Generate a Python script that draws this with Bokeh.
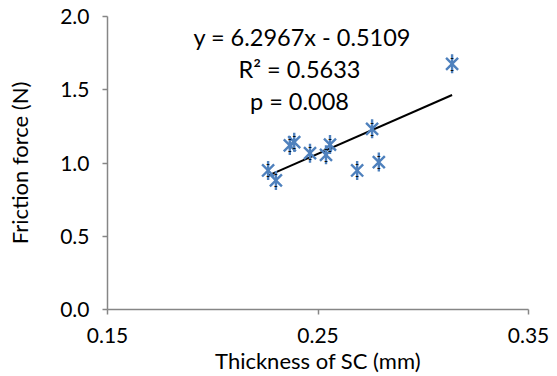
import numpy as np
from bokeh.plotting import figure
from bokeh.models import Label, FixedTicker, NumeralTickFormatter, ColumnDataSource
from bokeh.core.properties import value
from bokeh.embed import file_html
from bokeh.resources import INLINE

# data
thickness = [0.2263, 0.2300, 0.2366, 0.2387, 0.2462, 0.2538, 0.2557, 0.2686, 0.2757, 0.2789, 0.3137]
friction = [0.949, 0.881, 1.120, 1.142, 1.067, 1.056, 1.126, 0.949, 1.233, 1.006, 1.677]
slope = 6.2967
intercept = -0.5109
eq_text = "y = 6.2967x - 0.5109"
r2_text = "R² = 0.5633"
p_text = "p = 0.008"
x_ticks = [0.15, 0.25, 0.35]
y_ticks = [0.0, 0.5, 1.0, 1.5, 2.0]

FONT = "Lato"
AXIS_GRAY = "#868686"
BLUE = "#4F81BD"

p = figure(width=557, height=376, output_backend="svg", toolbar_location=None,
           x_range=(0.15, 0.35), y_range=(0.0, 2.0),
           min_border_left=107, min_border_right=29, min_border_top=16, min_border_bottom=67)
p.outline_line_color = None
p.xgrid.grid_line_color = None
p.ygrid.grid_line_color = None
p.background_fill_color = "white"
p.border_fill_color = "white"

# trendline
xs = np.array([min(thickness), max(thickness)])
p.line(xs, slope * xs + intercept, line_color="black", line_width=2)

src = ColumnDataSource(dict(x=thickness, y=friction))
p.scatter("x", "y", source=src, marker="x", size=17, line_color=BLUE, line_width=2.4)
p.scatter("x", "y", source=src, marker="dash", angle=np.pi / 2, size=19, line_color=BLUE, line_width=2.4)
for off in (-6, 6):
    p.text("x", "y", source=src, text=value("-"), y_offset=off, text_align="center",
           text_baseline="middle", text_font_size="11px", text_color="black",
           text_font=value(FONT))

for ax in (p.xaxis[0], p.yaxis[0]):
    ax.axis_line_color = AXIS_GRAY
    ax.axis_line_width = 1.5
    ax.major_tick_line_color = AXIS_GRAY
    ax.major_tick_line_width = 1.5
    ax.major_tick_out = 5
    ax.major_tick_in = 0
    ax.minor_tick_line_color = None
    ax.major_label_text_font = FONT
    ax.major_label_text_font_size = "21px"
    ax.major_label_text_color = "black"
    ax.axis_label_text_font = FONT
    ax.axis_label_text_font_style = "normal"
    ax.axis_label_text_color = "black"
    ax.axis_label_text_font_size = "22px"

p.xaxis.ticker = FixedTicker(ticks=x_ticks)
p.xaxis.formatter = NumeralTickFormatter(format="0.00")
p.xaxis.axis_label = "Thickness of SC (mm)"
p.xaxis.major_label_standoff = 13
p.xaxis.axis_label_standoff = 1

p.yaxis.ticker = FixedTicker(ticks=y_ticks)
p.yaxis.formatter = NumeralTickFormatter(format="0.0")
p.yaxis.axis_label = "Friction force (N)"
p.yaxis.major_label_standoff = 13
p.yaxis.axis_label_standoff = 24

for txt, yy, xx in ((eq_text, 1.86, 0.2425), (r2_text, 1.64, 0.2412), (p_text, 1.42, 0.2412)):
    p.add_layout(Label(x=xx, y=yy, text=txt, text_align="center", text_baseline="middle",
                       text_font=FONT, text_font_size="23.5px", text_color="black"))

open("out.html", "w").write(file_html(p, INLINE))
